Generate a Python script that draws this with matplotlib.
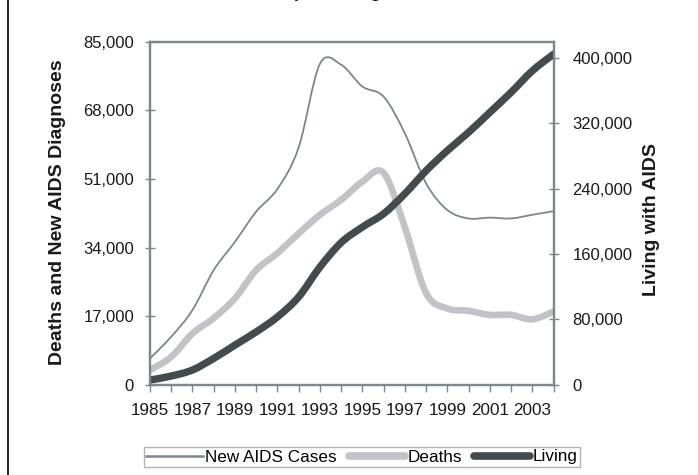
import matplotlib
matplotlib.use("Agg")
import matplotlib.pyplot as plt
from matplotlib.path import Path
from matplotlib.patches import PathPatch
from matplotlib.lines import Line2D
from matplotlib.ticker import FuncFormatter, MultipleLocator
import numpy as np

plt.rcParams['font.family'] = ['Liberation Sans', 'DejaVu Sans']

years = list(range(1985, 2005))
new_cases = [6500, 11900, 18500, 28400, 35400, 42900, 48500, 58800, 79500, 79300,
             73900, 71400, 62300, 49900, 43300, 41200, 41400, 41200, 42100, 43000]
deaths = [3600, 6900, 12700, 16500, 21400, 28400, 32600, 37500, 42100, 45800,
          50300, 52500, 39000, 22700, 18900, 18300, 17300, 17300, 16200, 18100]
living = [5700, 10600, 18000, 32200, 48500, 64700, 83000, 107500, 144000, 174000,
          193000, 209300, 233800, 262000, 286600, 309000, 333400, 357900, 384300, 404700]

c_new = '#7d868d'
c_death = '#c1c3c9'
c_living = '#444b4d'
c_axis = '#7f868c'


def smooth_path(xs, ys):
    """Excel-style smoothed line: cubic Bezier segments through the data points."""
    xs = np.asarray(xs, float)
    ys = np.asarray(ys, float)
    n = len(xs)
    verts = [(xs[0], ys[0])]
    codes = [Path.MOVETO]
    for i in range(n - 1):
        p0 = np.array([xs[max(i - 1, 0)], ys[max(i - 1, 0)]])
        p1 = np.array([xs[i], ys[i]])
        p2 = np.array([xs[i + 1], ys[i + 1]])
        p3 = np.array([xs[min(i + 2, n - 1)], ys[min(i + 2, n - 1)]])
        c1 = p1 + (p2 - p0) / 6.0
        c2 = p2 - (p3 - p1) / 6.0
        verts += [tuple(c1), tuple(c2), tuple(p2)]
        codes += [Path.CURVE4] * 3
    return Path(verts, codes)


fig = plt.figure(figsize=(6.98, 4.75), dpi=100)
ax = fig.add_axes([150 / 698, 1 - 384.7 / 475, (553.5 - 150) / 698, (384.7 - 41.7) / 475])
ax2 = ax.twinx()

ax.set_xlim(1985, 2004)
ax.set_ylim(0, 85000)
ax2.set_ylim(0, 420000)

ax.add_patch(PathPatch(smooth_path(years, new_cases), facecolor='none', edgecolor=c_new,
                       lw=1.3, capstyle='round', joinstyle='round', zorder=3))
ax.add_patch(PathPatch(smooth_path(years, deaths), facecolor='none', edgecolor=c_death,
                       lw=4.8, capstyle='round', joinstyle='round', zorder=2))
ax2.add_patch(PathPatch(smooth_path(years, living), facecolor='none', edgecolor=c_living,
                        lw=5.3, capstyle='round', joinstyle='round', zorder=2))

fmt = FuncFormatter(lambda v, p: f"{int(v):,}")
ax.yaxis.set_major_locator(MultipleLocator(17000))
ax.yaxis.set_major_formatter(fmt)
ax2.set_yticks(list(range(0, 400001, 80000)))
ax2.yaxis.set_major_formatter(fmt)

ax.set_xticks(years)
ax.set_xticklabels([str(y) if (y - 1985) % 2 == 0 else '' for y in years])

for a in (ax, ax2):
    for s in a.spines.values():
        s.set_color(c_axis)
        s.set_linewidth(1.6)

ax.tick_params(axis='x', direction='out', length=5, width=1, color=c_axis,
               labelsize=12.3, pad=8.5, labelcolor='#1a1a1a')
ax.tick_params(axis='y', direction='inout', length=7, width=1, color=c_axis,
               labelsize=12, pad=8, labelcolor='#1a1a1a')
ax2.tick_params(axis='y', direction='inout', length=7, width=1, color=c_axis,
                labelsize=12, pad=10, labelcolor='#1a1a1a')

fig.text(58 / 698, 1 - 212 / 475, 'Deaths and New AIDS Diagnoses', rotation=90,
         ha='center', va='center', fontsize=14, fontweight='bold', color='#1a1a1a')
fig.text(652 / 698, 1 - 219.5 / 475, 'Living with AIDS', rotation=90,
         ha='center', va='center', fontsize=14, fontweight='bold', color='#1a1a1a')

# title, mostly cut off at the top edge in the reference
fig.text(322 / 698, 1 + 3 / 475, 'Estimated Number of People Living with AIDS, 1985\u20132003',
         ha='center', va='baseline', fontsize=13.5, fontweight='bold', color='#1a1a1a')

# left border line
fig.add_artist(Line2D([8 / 698, 8 / 698], [0, 1], color='black', lw=1.2,
                      transform=fig.transFigure))

handles = [
    Line2D([], [], color=c_new, lw=1.8),
    Line2D([], [], color=c_death, lw=5.5, solid_capstyle='round'),
    Line2D([], [], color=c_living, lw=5.5, solid_capstyle='round'),
]
leg = fig.legend(handles, ['New AIDS Cases', 'Deaths', 'Living'], loc='center',
                 bbox_to_anchor=(362 / 698, 1 - 457 / 475), ncol=3, frameon=True,
                 fancybox=False, edgecolor='#a0a0a0', fontsize=12.3, handlelength=3.3,
                 handletextpad=0.15, columnspacing=0.7, borderpad=0.15,
                 borderaxespad=0)
leg.get_frame().set_linewidth(1.0)

fig.savefig('out.png', dpi=100)
